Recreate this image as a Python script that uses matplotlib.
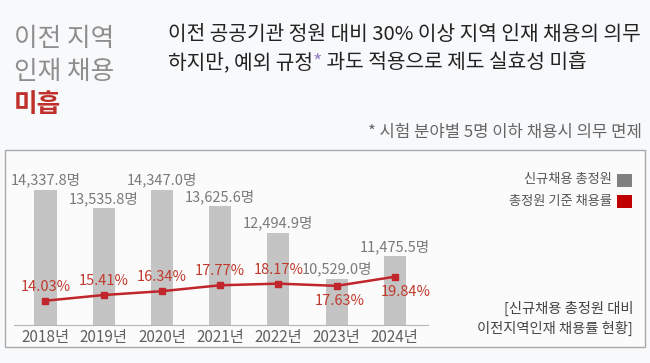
import matplotlib
matplotlib.use("Agg")
import matplotlib.pyplot as plt
from matplotlib.patches import Rectangle

plt.rcParams['font.family'] = ['Noto Sans CJK KR', 'DejaVu Sans']

# data
years = ['2018년', '2019년', '2020년', '2021년', '2022년', '2023년', '2024년']
hires = [14337.8, 13535.8, 14347.0, 13625.6, 12494.9, 10529.0, 11475.5]
rates = [14.03, 15.41, 16.34, 17.77, 18.17, 17.63, 19.84]

W, H = 650, 363
BG = '#f8f9fb'
fig = plt.figure(figsize=(W / 100, H / 100), dpi=100, facecolor=BG)


def fx(x):
    return x / W


def fy(y):
    return 1 - y / H


# panel box
fig.patches.append(Rectangle((fx(5), fy(347)), fx(640), (347 - 150) / H,
                             transform=fig.transFigure, facecolor='#fbfbfc',
                             edgecolor='#a9a9a9', lw=1.0, zorder=-5))

# header
fig.text(fx(14), fy(39), '이전 지역', fontsize=18.5, color='#8e8e8e', va='center', weight='medium')
fig.text(fx(14), fy(72), '인재 채용', fontsize=18.5, color='#8e8e8e', va='center', weight='medium')
fig.text(fx(14), fy(105), '미흡', fontsize=18.5, color='#c0302b', va='center', weight='bold')

fig.text(fx(168), fy(35), '이전 공공기관 정원 대비 30% 이상 지역 인재 채용의 의무',
         fontsize=14.6, color='#222222', va='center')
t1 = fig.text(fx(168), fy(63), '하지만, 예외 규정', fontsize=14.6, color='#222222', va='center')
renderer = fig.canvas.get_renderer()
x1 = t1.get_window_extent(renderer).x1
t2 = fig.text(x1 / W, fy(63), '*', fontsize=14.6, color='#9a86c8', va='center')
x2 = t2.get_window_extent(renderer).x1
fig.text(x2 / W, fy(63), ' 과도 적용으로 제도 실효성 미흡', fontsize=14.6, color='#222222', va='center')

fig.text(fx(642), fy(132), '* 시험 분야별 5명 이하 채용시 의무 면제', fontsize=12,
         color='#666666', va='center', ha='right')

# legend
fig.text(fx(612), fy(180), '신규채용 총정원', fontsize=9.5, color='#555555', va='center', ha='right')
fig.text(fx(612), fy(201), '총정원 기준 채용률', fontsize=9.5, color='#555555', va='center', ha='right')
fig.patches.append(Rectangle((fx(617), fy(187)), fx(15), 13 / H, transform=fig.transFigure,
                             facecolor='#808080', edgecolor='none'))
fig.patches.append(Rectangle((fx(617), fy(208)), fx(15), 13 / H, transform=fig.transFigure,
                             facecolor='#c00000', edgecolor='none'))

fig.text(fx(633), fy(308), '[신규채용 총정원 대비', fontsize=10.3, color='#444444', va='center', ha='right')
fig.text(fx(633), fy(328), '이전지역인재 채용률 현황]', fontsize=10.3, color='#444444', va='center', ha='right')

# chart
ax = fig.add_axes([fx(14), 38 / H, 414 / W, 160 / H])
ax.set_facecolor('none')
x = list(range(len(years)))
ax.bar(x, hires, width=0.38, color='#c4c4c4', zorder=1)
ax.set_xlim(-0.54, 6.57)
ax.set_ylim(8535, 15399)
for s in ['top', 'left', 'right']:
    ax.spines[s].set_visible(False)
ax.spines['bottom'].set_color('#b5b5b5')
ax.set_yticks([])
ax.set_xticks(x)
ax.set_xticklabels(years, fontsize=11, color='#606060')
ax.tick_params(axis='x', length=0, pad=3)
for xi, v in zip(x, hires):
    ax.annotate(f'{v:,.1f}명', (xi, v), xytext=(0, 2), textcoords='offset pixels',
                ha='center', va='bottom', fontsize=10.5, color='#7a7a7a')

ax2 = ax.twinx()
ax2.set_ylim(8.15, 46.9)
ax2.axis('off')
ax2.plot(x, rates, color='#c0262b', lw=1.8, marker='s', markersize=4.5, zorder=3)
offsets = [(0, 7), (0, 7), (0, 7), (0, 7), (0, 7), (3, -8), (11, -8)]
for xi, r, (dx, dy) in zip(x, rates, offsets):
    ax2.annotate(f'{r:.2f}%', (xi, r), xytext=(dx, dy), textcoords='offset pixels',
                 ha='center', va='bottom' if dy > 0 else 'top', fontsize=10.5, color='#c0392b')

fig.savefig('out.png', dpi=100, facecolor=BG)
